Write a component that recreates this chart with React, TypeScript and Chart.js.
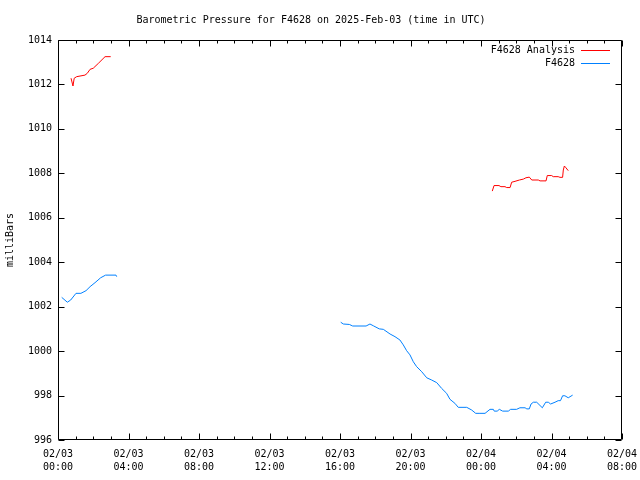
import { useEffect, useRef } from "react";
import { Chart, registerables } from "chart.js";

Chart.register(...registerables);

const TITLE = "Barometric Pressure for F4628 on 2025-Feb-03 (time in UTC)";
const Y_LABEL = "milliBars";
const X_TICK_DATES = ["02/03", "02/03", "02/03", "02/03", "02/03", "02/03", "02/04", "02/04", "02/04"];
const X_TICK_TIMES = ["00:00", "04:00", "08:00", "12:00", "16:00", "20:00", "00:00", "04:00", "08:00"];

// hours since 2025-02-03 00:00 UTC; null pressure = gap in record
const analysisHours = [
  0.74, 0.85, 0.92, 1.06, 1.53, 1.66, 1.82, 2.0, 2.29, 2.67, 2.99,
  12,
  24.64, 24.74, 25.02, 25.13, 25.36, 25.46, 25.65, 25.74, 25.93, 26.18, 26.4, 26.55, 26.74,
  26.88, 27.25, 27.35, 27.69, 27.76, 28.01, 28.1, 28.38, 28.48, 28.63, 28.67, 28.73, 28.82, 28.95,
];
const analysisPressure = [
  1012.28, 1011.93, 1012.28, 1012.35, 1012.42, 1012.5, 1012.68, 1012.73, 1012.95, 1013.25, 1013.25,
  null,
  1007.2, 1007.45, 1007.45, 1007.4, 1007.4, 1007.36, 1007.36, 1007.6, 1007.64, 1007.7, 1007.74, 1007.8, 1007.83,
  1007.7, 1007.7, 1007.66, 1007.66, 1007.9, 1007.9, 1007.85, 1007.85, 1007.82, 1007.82, 1008.15, 1008.33, 1008.25, 1008.12,
];

const stationHours = [
  0.21, 0.53, 0.72, 1.02, 1.3, 1.59, 1.82, 2.1, 2.42, 2.7, 3.29, 3.33,
  10,
  16.04, 16.19, 16.53, 16.72, 17.48, 17.7, 17.89, 18.23, 18.46, 18.84, 19.12, 19.4, 19.59, 19.78,
  19.97, 20.16, 20.35, 20.64, 20.92, 21.2, 21.49, 21.77, 22.05, 22.24, 22.52, 22.71, 23.19, 23.47,
  23.7, 23.94, 24.23, 24.51, 24.7, 24.75, 24.92, 25.04, 25.23, 25.55, 25.68, 26.02, 26.21, 26.5,
  26.6, 26.74, 26.84, 26.97, 27.16, 27.48, 27.67, 27.82, 27.95, 28.2, 28.38, 28.51, 28.63, 28.76,
  28.95, 29.2,
];
const stationPressure = [
  1002.42, 1002.2, 1002.3, 1002.6, 1002.6, 1002.72, 1002.9, 1003.08, 1003.3, 1003.42, 1003.42, 1003.35,
  null,
  1001.3, 1001.22, 1001.2, 1001.13, 1001.13, 1001.22, 1001.14, 1001.0, 1000.98, 1000.77, 1000.65, 1000.5, 1000.28, 1000.02,
  999.83, 999.52, 999.3, 999.07, 998.8, 998.7, 998.58, 998.32, 998.1, 997.83, 997.65, 997.47, 997.47, 997.35,
  997.2, 997.2, 997.2, 997.38, 997.38, 997.3, 997.3, 997.38, 997.3, 997.3, 997.38, 997.38, 997.45, 997.45,
  997.4, 997.4, 997.62, 997.7, 997.7, 997.45, 997.7, 997.7, 997.62, 997.7, 997.77, 997.77, 997.99, 997.99,
  997.9, 998.02,
];

const SERIES_LABELS = ["F4628 Analysis", "F4628"];
const SERIES_COLORS = ["#ff0000", "#0080ff"];

const FONT = "DejaVu Sans Mono";

const framePlugin = {
  id: "gnuplotFrame",
  afterDraw(chart: any) {
    const { ctx, chartArea } = chart;
    const { left, right, top, bottom } = chartArea;
    const xs = chart.scales.x;
    const ys = chart.scales.y;
    ctx.save();
    ctx.strokeStyle = "#000";
    ctx.lineWidth = 1;
    const L = Math.round(left) + 0.5;
    const R = Math.round(right) - 0.5;
    const T = Math.round(top) + 0.5;
    const B = Math.round(bottom) - 0.5;
    ctx.beginPath();
    ctx.rect(L, T, R - L, B - T);
    // x ticks: major every 4h, minor every hour
    for (let h = xs.min; h <= xs.max; h += 1) {
      const px = Math.round(xs.getPixelForValue(h)) + 0.5;
      const len = h % 4 === 0 ? 6 : 3;
      ctx.moveTo(px, B);
      ctx.lineTo(px, B - len);
      ctx.moveTo(px, T);
      ctx.lineTo(px, T + len);
    }
    for (let v = ys.min; v <= ys.max; v += 2) {
      const py = Math.round(ys.getPixelForValue(v)) + 0.5;
      ctx.moveTo(L, py);
      ctx.lineTo(L + 6, py);
      ctx.moveTo(R, py);
      ctx.lineTo(R - 6, py);
    }
    ctx.stroke();

    // legend (gnuplot style: text then sample line)
    ctx.font = `10px ${FONT}`;
    ctx.textAlign = "right";
    ctx.textBaseline = "middle";
    chart.data.datasets.forEach((ds: any, i: number) => {
      const y = Math.round(top) + 10 + i * 13;
      ctx.fillStyle = "#000";
      ctx.fillText(ds.label, 575, y);
      ctx.strokeStyle = ds.borderColor;
      ctx.beginPath();
      ctx.moveTo(581, y + 0.5);
      ctx.lineTo(610, y + 0.5);
      ctx.stroke();
    });
    ctx.restore();
  },
};

function toPoints(hours: number[], values: (number | null)[]) {
  return hours.map((h, i) => ({ x: h, y: values[i] }));
}

export default function App() {
  const ref = useRef<HTMLCanvasElement | null>(null);
  useEffect(() => {
    if (!ref.current) return;
    Chart.defaults.font.family = FONT;
    Chart.defaults.font.size = 10;
    Chart.defaults.color = "#000";
    const chart = new Chart(ref.current, {
      type: "line",
      data: {
        datasets: [
          {
            label: SERIES_LABELS[0],
            data: toPoints(analysisHours, analysisPressure) as any,
            borderColor: SERIES_COLORS[0],
            borderWidth: 1,
            pointRadius: 0,
            tension: 0,
            spanGaps: false,
            fill: false,
          },
          {
            label: SERIES_LABELS[1],
            data: toPoints(stationHours, stationPressure) as any,
            borderColor: SERIES_COLORS[1],
            borderWidth: 1,
            pointRadius: 0,
            tension: 0,
            spanGaps: false,
            fill: false,
          },
        ],
      },
      options: {
        animation: false,
        responsive: false,
        devicePixelRatio: 1,
        layout: { padding: { left: 0, right: 18, top: 0, bottom: 0 } },
        plugins: {
          legend: { display: false },
          tooltip: { enabled: false },
          title: {
            display: true,
            text: TITLE,
            color: "#000",
            font: { family: FONT, size: 10, weight: "normal", lineHeight: 1.2 },
            padding: { top: 14, bottom: 14 },
          },
        },
        scales: {
          x: {
            type: "linear",
            min: 0,
            max: 32,
            grid: { display: false, drawTicks: false },
            border: { display: false },
            afterFit: (s: any) => {
              s.height = 40;
              s.paddingLeft = 0;
              s.paddingRight = 0;
            },
            ticks: {
              stepSize: 4,
              autoSkip: false,
              maxRotation: 0,
              padding: 8,
              color: "#000",
              font: { family: FONT, size: 10, lineHeight: 1.3 },
              callback: (v: any) => {
                const i = Math.round(Number(v) / 4);
                return [X_TICK_DATES[i], X_TICK_TIMES[i]];
              },
            },
          },
          y: {
            type: "linear",
            min: 996,
            max: 1014,
            grid: { display: false, drawTicks: false },
            border: { display: false },
            afterFit: (s: any) => {
              s.width = 58;
              s.paddingTop = 0;
              s.paddingBottom = 0;
            },
            title: {
              display: true,
              text: Y_LABEL,
              color: "#000",
              font: { family: FONT, size: 10 },
              padding: { top: 4, bottom: 0 },
            },
            ticks: {
              stepSize: 2,
              padding: 6,
              color: "#000",
              font: { family: FONT, size: 10 },
              callback: (v: any) => String(Math.round(Number(v))),
            },
          },
        },
      },
      plugins: [framePlugin],
    });
    return () => chart.destroy();
  }, []);
  return (
    <div style={{ position: "absolute", left: 0, top: 0, width: 640, height: 480, background: "#fff" }}>
      <canvas ref={ref} width={640} height={480} />
    </div>
  );
}
